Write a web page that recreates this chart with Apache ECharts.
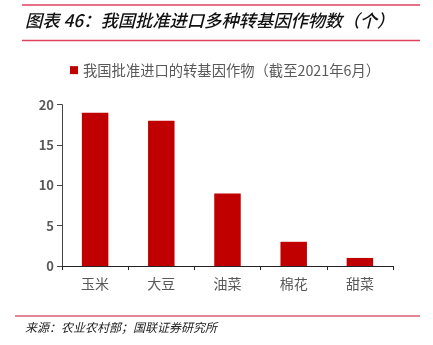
<!DOCTYPE html>
<html>
<head>
<meta charset="utf-8">
<script src="https://cdn.jsdelivr.net/npm/echarts@6/dist/echarts.min.js"></script>
<style>
  html, body { margin: 0; padding: 0; background: #fff; }
  #chart { width: 433px; height: 345px; }
</style>
</head>
<body>
<div id="chart"></div>
<script>
// Crops approved for import as GM products (count, as of June 2021)
const categories = ['玉米', '大豆', '油菜', '棉花', '甜菜'];
const approvedCounts = [19, 18, 9, 3, 1];
const yTicks = [0, 5, 10, 15, 20];

const seriesName = '我国批准进口的转基因作物（截至2021年6月）';
const titleText = '图表 46：我国批准进口多种转基因作物数（个）';
const sourceText = '来源：农业农村部；国联证券研究所';

const cjk = '"Noto Sans CJK SC", "Microsoft YaHei", sans-serif';
const gray = '#595959';
const ruleColor = '#E0415E';

const chart = echarts.init(document.getElementById('chart'), null, { renderer: 'canvas' });

chart.setOption({
  backgroundColor: '#fff',
  animation: false,
  textStyle: { fontFamily: cjk },
  graphic: [
    { type: 'line', shape: { x1: 22, y1: 5, x2: 420, y2: 5 }, style: { stroke: ruleColor, lineWidth: 1.5 } },
    { type: 'text', left: 25, top: 12,
      style: { text: titleText, font: 'italic 500 17.3px ' + cjk, fill: '#111' } },
    { type: 'line', shape: { x1: 22, y1: 40.5, x2: 420, y2: 40.5 }, style: { stroke: ruleColor, lineWidth: 1.5 } },
    { type: 'line', shape: { x1: 15, y1: 316, x2: 420, y2: 316 }, style: { stroke: '#C8102E', lineWidth: 1 } },
    { type: 'text', left: 25, top: 321,
      style: { text: sourceText, font: 'italic 12px ' + cjk, fill: '#222' } }
  ],
  legend: {
    top: 58,
    left: 65,
    itemWidth: 8,
    itemHeight: 8,
    itemGap: 4,
    icon: 'rect',
    textStyle: { fontSize: 14.3, color: gray, fontFamily: cjk }
  },
  grid: { left: 62, right: 40, top: 104.7, bottom: 79, containLabel: false },
  xAxis: {
    type: 'category',
    data: categories,
    axisLine: { lineStyle: { color: '#222', width: 1 } },
    axisTick: { show: true, alignWithLabel: false, length: 4, lineStyle: { color: '#222' } },
    axisLabel: { fontSize: 14, color: gray, margin: 11, fontFamily: cjk }
  },
  yAxis: {
    type: 'value',
    min: 0,
    max: 20,
    interval: 5,
    axisLine: { show: true, lineStyle: { color: '#444', width: 1 } },
    axisTick: { show: true, length: 5, inside: false, lineStyle: { color: '#444' } },
    splitLine: { show: false },
    axisLabel: {
      fontSize: 13, color: gray, fontWeight: 'bold', margin: 8, fontFamily: cjk,
      formatter: v => (yTicks.includes(v) ? String(v) : '')
    }
  },
  series: [{
    name: seriesName,
    type: 'bar',
    data: approvedCounts,
    barWidth: '40%',
    itemStyle: { color: '#C00000' }
  }]
});
</script>
</body>
</html>
